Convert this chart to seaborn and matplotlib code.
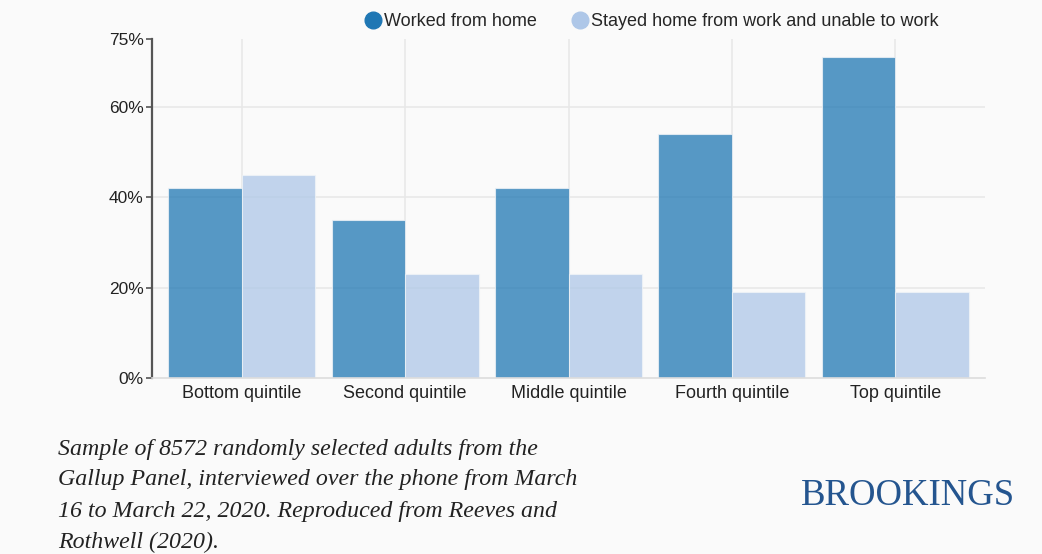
import matplotlib
matplotlib.use("Agg")
import matplotlib.pyplot as plt
import seaborn as sns
import pandas as pd
from matplotlib.lines import Line2D

categories = ["Bottom quintile", "Second quintile", "Middle quintile", "Fourth quintile", "Top quintile"]
series_names = ["Worked from home", "Stayed home from work and unable to work"]
worked_from_home = [42, 35, 42, 54, 71]
stayed_home = [45, 23, 23, 19, 19]
y_ticks = [0, 20, 40, 60, 75]
y_tick_labels = ["0%", "20%", "40%", "60%", "75%"]
colors = ["#1f77b4", "#aec7e8"]

df = pd.DataFrame({
    "category": categories * 2,
    "series": [series_names[0]] * 5 + [series_names[1]] * 5,
    "value": worked_from_home + stayed_home,
})

sns.set_style("white")
plt.rcParams["font.family"] = ["Liberation Sans", "DejaVu Sans"]
bg = "#fafafa"
fig = plt.figure(figsize=(10.42, 5.54), dpi=100, facecolor=bg)
ax = fig.add_axes([152 / 1042, 1 - 378 / 554, (985 - 152) / 1042, (378 - 39) / 554])
ax.set_facecolor(bg)

# grid lines
for y in [20, 40, 60]:
    ax.axhline(y, color="#e8e8e8", lw=1.2, zorder=0)
for i in range(len(categories)):
    ax.plot([i, i], [0, 75], color="#e8e8e8", lw=1.2, zorder=0)

sns.barplot(data=df, x="category", y="value", hue="series", palette=colors,
            width=0.9, gap=0, alpha=0.75, ax=ax, legend=False, zorder=2,
            saturation=1, linewidth=0.8, edgecolor="#f0f4f8",
            err_kws={"linewidth": 0})

ax.set_xlim(-0.55, len(categories) - 0.45)
ax.set_ylim(0, 75)
ax.set_yticks(y_ticks)
ax.set_yticklabels(y_tick_labels)
ax.set_xlabel("")
ax.set_ylabel("")
for s in ["top", "right"]:
    ax.spines[s].set_visible(False)
ax.spines["left"].set_color("#555555")
ax.spines["left"].set_linewidth(1.6)
ax.spines["bottom"].set_color("#dddddd")
ax.spines["bottom"].set_linewidth(1.2)
ax.tick_params(axis="y", length=4, width=1.2, color="#555555", pad=2,
               labelsize=12.5, labelcolor="#222222", left=True)
ax.tick_params(axis="x", length=0, pad=5, labelsize=13, labelcolor="#222222")

handles = [Line2D([], [], marker="o", linestyle="", markersize=12,
                  markerfacecolor=c, markeredgecolor=c) for c in colors]
fig.legend(handles, series_names, loc="center", bbox_to_anchor=(651 / 1042, 1 - 22 / 554),
           ncol=2, frameon=False, fontsize=13, handletextpad=0.1,
           columnspacing=1.9, handlelength=1.0)

caption = ["Sample of 8572 randomly selected adults from the",
           "Gallup Panel, interviewed over the phone from March",
           "16 to March 22, 2020. Reproduced from Reeves and",
           "Rothwell (2020)."]
for k, line in enumerate(caption):
    fig.text(58 / 1042, 1 - (449 + 31 * k) / 554, line, fontsize=17.2,
             family=["Liberation Serif", "DejaVu Serif"], style="italic",
             color="#222222", va="center", ha="left")

fig.text(1015 / 1042, 1 - 496 / 554, "BROOKINGS", fontsize=26.5,
         family=["Liberation Serif", "DejaVu Serif"], color="#24558f",
         va="center", ha="right")

fig.savefig("out.png", dpi=100, facecolor=bg)
